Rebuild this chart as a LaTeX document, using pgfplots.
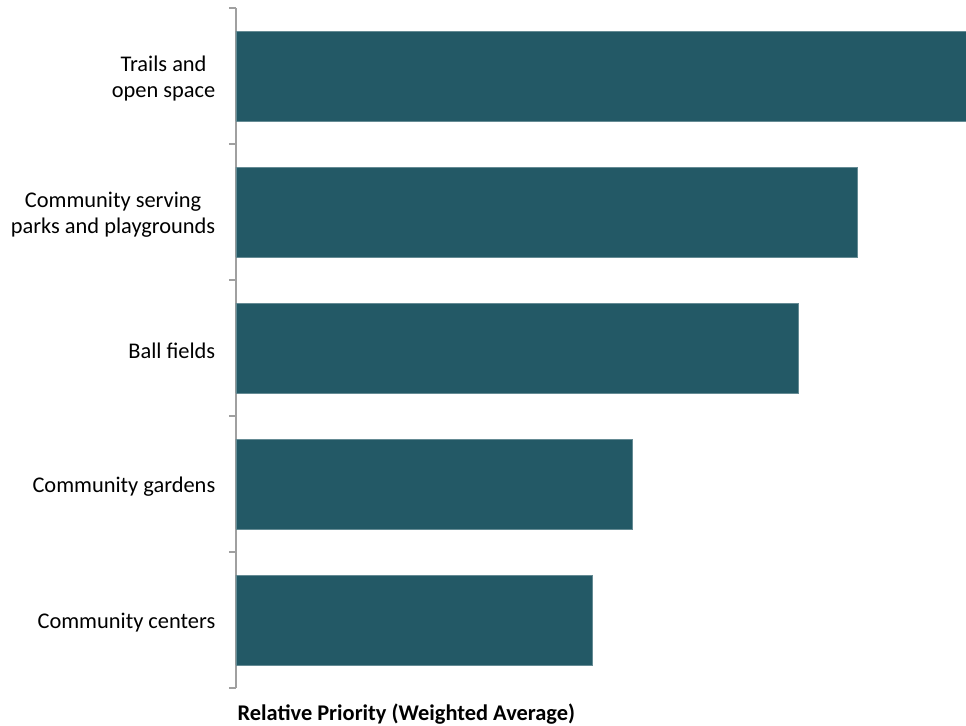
\documentclass[border=0pt]{standalone}
\usepackage{fontspec}
\setmainfont{Carlito}
\usepackage{pgfplots}
\pgfplotsset{compat=1.18}
\definecolor{barc}{RGB}{35,89,102}
\definecolor{axc}{RGB}{160,160,160}
\begin{document}
\begin{tikzpicture}
\begin{axis}[
  scale only axis,
  width=547.5pt, height=510pt,
  xbar, bar width=0.66,
  xmin=0, xmax=7.29,
  ymin=-0.5, ymax=4.5,
  axis y line*=left, axis x line*=bottom,
  x axis line style={draw=none},
  y axis line style={draw=axc, line width=0.8pt},
  xtick=\empty,
  ytick={0,1,2,3,4},
  yticklabels={Community centers,Community gardens,Ball fields,{Community serving\\parks and playgrounds},{Trails and\\open space}},
  major tick length=0pt,
  extra y ticks={-0.5,0.5,1.5,2.5,3.5,4.5},
  extra y tick labels={},
  extra y tick style={major tick length=5.25pt, tick style={draw=axc, line width=0.8pt}, tick pos=left, tick align=outside},
  yticklabel style={align=center, font=\fontsize{16.8}{20}\selectfont, xshift=-12pt, yshift=-2pt},
  xlabel={\textbf{Relative Priority (Weighted Average)}},
  xlabel style={at={(axis description cs:0,0)}, anchor=north west, inner sep=0pt, yshift=-12pt, xshift=1pt, font=\fontsize{16.8}{20}\selectfont},
  clip=false,
]
\addplot[fill=barc, draw=barc!70!white, line width=0.4pt] coordinates {
(3.56,0) (3.96,1) (5.61,2) (6.20,3) (7.29,4)
};
\end{axis}
\pgfresetboundingbox
\path[use as bounding box] (current axis.south west) ++(-177pt,-27.75pt) rectangle ++(724.5pt,543.75pt);
\end{tikzpicture}
\end{document}
